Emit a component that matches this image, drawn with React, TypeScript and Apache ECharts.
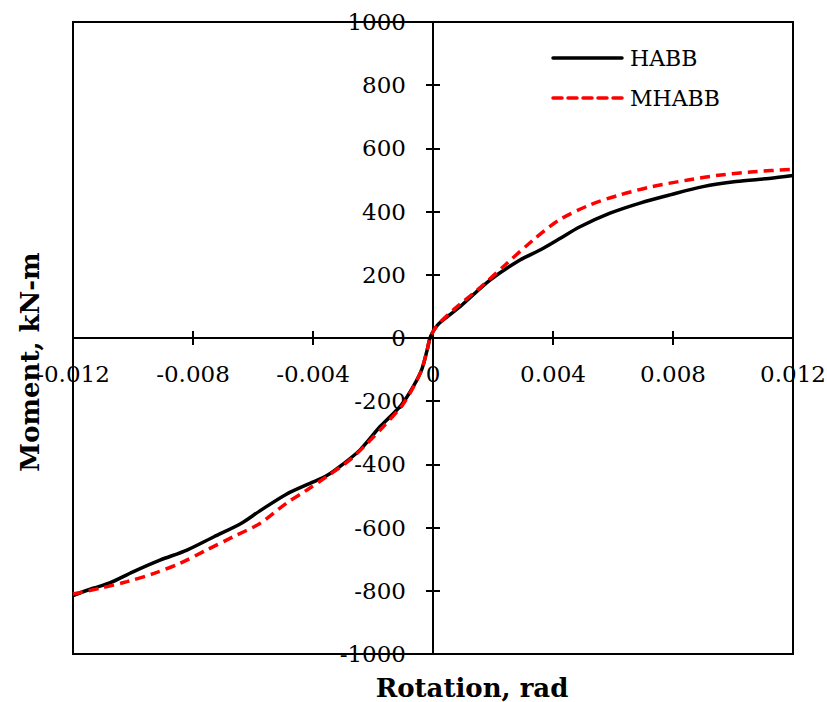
import React, { useEffect, useRef } from "react";
import * as echarts from "echarts";

const habbX = [-0.012, -0.01133, -0.0108, -0.01, -0.0091, -0.0082, -0.0073, -0.0064, -0.00577, -0.0049, -0.0041, -0.00355, -0.003, -0.00243, -0.00177, -0.00143, -0.00104, -0.00066, -0.00038, -0.0002, -0.0001, 0.00003, 0.0002, 0.0009, 0.0019, 0.0029, 0.0036, 0.0042, 0.0049, 0.0059, 0.0069, 0.0079, 0.009, 0.0101, 0.0112, 0.012];
const habbY = [-815, -792, -776, -740, -703, -671, -629, -587, -547, -495, -460, -436, -399, -354, -281, -249, -210, -154, -101, -40, 0, 25, 46, 99, 183, 247, 280, 313, 352, 395, 427, 453, 479, 495, 505, 514];

const mhabbX = [-0.012, -0.0111, -0.0102, -0.0093, -0.00843, -0.00755, -0.00666, -0.00577, -0.00489, -0.0042, -0.00355, -0.00277, -0.0022, -0.00166, -0.00104, -0.00066, -0.00038, -0.0002, -0.0001, 0.00003, 0.0002, 0.00068, 0.0016, 0.00246, 0.00334, 0.0042, 0.0052, 0.0062, 0.0073, 0.0085, 0.0096, 0.0107, 0.012];
const mhabbY = [-810, -792, -771, -745, -713, -671, -629, -587, -523, -481, -439, -386, -334, -281, -215, -156, -101, -40, 0, 25, 46, 89, 162, 236, 310, 373, 420, 452, 479, 500, 516, 526, 534];

const xTicks = [-0.012, -0.008, -0.004, 0, 0.004, 0.008, 0.012];
const yTicks = [-1000, -800, -600, -400, -200, 0, 200, 400, 600, 800, 1000];
const seriesNames = ["HABB", "MHABB"];

const FONT = "DejaVu Serif";

// grid geometry (layout only)
const G_LEFT = 73;
const G_TOP = 22;
const G_W = 720;
const G_H = 632;

export default function App() {
  const ref = useRef<HTMLDivElement>(null);
  useEffect(() => {
    const chart = echarts.init(ref.current!, null, { renderer: "svg" });
    const habb = habbX.map((x, i) => [x, habbY[i]]);
    const mhabb = mhabbX.map((x, i) => [x, mhabbY[i]]);
    const xMin = xTicks[0];
    const xMax = xTicks[xTicks.length - 1];
    const yMin = yTicks[0];
    const yMax = yTicks[yTicks.length - 1];
    // offsets that bring the axes onto the zero lines
    const yZeroFromBottom = (G_H * (0 - yMin)) / (yMax - yMin);
    const xZeroFromLeft = (G_W * (0 - xMin)) / (xMax - xMin);
    const xFmt = (v: number) => {
      const r = Math.round(v * 1000) / 1000;
      if (r === 0) return "0";
      return r.toFixed(3);
    };
    const yFmt = (v: number) => String(Math.round(v));
    const tick = { show: true, length: 7, lineStyle: { color: "#000", width: 2 } };
    const line = { onZero: false, lineStyle: { color: "#000", width: 2 } };
    chart.setOption({
      animation: false,
      grid: {
        left: G_LEFT,
        top: G_TOP,
        width: G_W,
        height: G_H,
        show: true,
        borderColor: "#000",
        borderWidth: 2,
        backgroundColor: "transparent",
        containLabel: false,
        outerBoundsMode: "none",
      },
      xAxis: [
        {
          type: "value",
          min: xMin,
          max: xMax,
          interval: 0.004,
          position: "bottom",
          offset: -yZeroFromBottom,
          axisLine: line,
          axisTick: tick,
          axisLabel: {
            margin: 24,
            fontFamily: FONT,
            fontSize: 23,
            color: "#000",
            formatter: xFmt,
            showMinLabel: true,
            showMaxLabel: true,
          },
          splitLine: { show: false },
        },
        {
          type: "value",
          min: xMin,
          max: xMax,
          interval: 0.004,
          position: "top",
          offset: -(G_H - yZeroFromBottom),
          axisLine: line,
          axisTick: tick,
          axisLabel: { show: false },
          splitLine: { show: false },
        },
      ],
      yAxis: [
        {
          type: "value",
          min: yMin,
          max: yMax,
          interval: 200,
          position: "left",
          offset: -xZeroFromLeft,
          axisLine: line,
          axisTick: tick,
          axisLabel: {
            margin: 27,
            fontFamily: FONT,
            fontSize: 23,
            color: "#000",
            formatter: yFmt,
            showMinLabel: true,
            showMaxLabel: true,
          },
          splitLine: { show: false },
        },
        {
          type: "value",
          min: yMin,
          max: yMax,
          interval: 200,
          position: "right",
          offset: -(G_W - xZeroFromLeft),
          axisLine: line,
          axisTick: tick,
          axisLabel: { show: false },
          splitLine: { show: false },
        },
      ],
      graphic: [
        {
          type: "text",
          x: 472,
          y: 688,
          style: {
            text: "Rotation, rad",
            fontFamily: FONT,
            fontWeight: "bold",
            fontSize: 26,
            fill: "#000",
            textAlign: "center",
            textVerticalAlign: "middle",
          },
        },
        {
          type: "text",
          x: 30,
          y: 362,
          rotation: Math.PI / 2,
          style: {
            text: "Moment, kN-m",
            fontFamily: FONT,
            fontWeight: "bold",
            fontSize: 26,
            fill: "#000",
            textAlign: "center",
            textVerticalAlign: "middle",
          },
        },
        {
          type: "line",
          shape: { x1: 553, y1: 58, x2: 622, y2: 58 },
          style: { stroke: "#000", lineWidth: 3.5, lineCap: "round" },
        },
        {
          type: "text",
          x: 630,
          y: 58,
          style: {
            text: seriesNames[0],
            fontFamily: FONT,
            fontSize: 22,
            fill: "#000",
            textVerticalAlign: "middle",
          },
        },
        {
          type: "line",
          shape: { x1: 553, y1: 98, x2: 622, y2: 98 },
          style: { stroke: "#ff0000", lineWidth: 3.5, lineDash: [9, 6], lineCap: "round" },
        },
        {
          type: "text",
          x: 630,
          y: 98,
          style: {
            text: seriesNames[1],
            fontFamily: FONT,
            fontSize: 22,
            fill: "#000",
            textVerticalAlign: "middle",
          },
        },
      ],
      series: [
        {
          name: seriesNames[0],
          type: "line",
          xAxisIndex: 0,
          yAxisIndex: 0,
          data: habb,
          smooth: 0.3,
          showSymbol: false,
          symbol: "none",
          lineStyle: { color: "#000", width: 3.5 },
          itemStyle: { color: "#000" },
          z: 3,
        },
        {
          name: seriesNames[1],
          type: "line",
          xAxisIndex: 0,
          yAxisIndex: 0,
          data: mhabb,
          smooth: 0.3,
          showSymbol: false,
          symbol: "none",
          lineStyle: { color: "#ff0000", width: 3.5, type: [10, 6] },
          itemStyle: { color: "#ff0000" },
          z: 4,
        },
      ],
    });
    return () => chart.dispose();
  }, []);
  return (
    <div
      ref={ref}
      style={{ position: "fixed", left: 0, top: 0, width: 827, height: 702, background: "#fff" }}
    />
  );
}
